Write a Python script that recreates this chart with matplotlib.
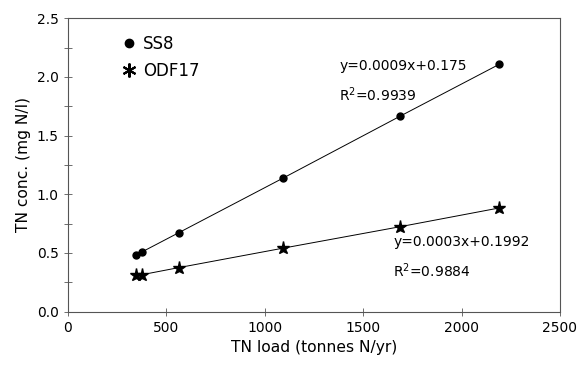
import matplotlib.pyplot as plt
from matplotlib.lines import Line2D
from matplotlib.ticker import MultipleLocator

# TN load (tonnes N/yr)
load = [345, 378, 564, 1091, 1689, 2190]
ss8 = [0.48, 0.51, 0.673, 1.136, 1.667, 2.107]
odf17 = [0.31, 0.315, 0.375, 0.54, 0.724, 0.883]

plt.rcParams['font.family'] = ['DejaVu Sans']

fig = plt.figure(figsize=(5.8, 3.67), dpi=100)
ax = fig.add_axes([0.117, 0.151, 0.8485, 0.799])

ax.plot(load, ss8, color='black', lw=0.7, marker='o', ms=5)
ax.plot(load, odf17, color='black', lw=0.7, marker='*', ms=9.5)

ax.set_xlim(0, 2500)
ax.set_ylim(0, 2.5)
ax.xaxis.set_major_locator(MultipleLocator(500))
ax.yaxis.set_major_locator(MultipleLocator(0.5))
ax.yaxis.set_minor_locator(MultipleLocator(0.25))
ax.yaxis.set_major_formatter(lambda v, p: f"{v:.1f}")
ax.tick_params(which='both', direction='inout', length=6, width=0.6, color='#555555', labelsize=10)
for s in ax.spines.values():
    s.set_color('#555555')
    s.set_linewidth(0.8)

ax.set_xlabel("TN load (tonnes N/yr)", fontsize=11.2)
ax.set_ylabel("TN conc. (mg N/l)", fontsize=11.2)

ax.text(1379, 2.09, "y=0.0009x+0.175", fontsize=10, va='center')
ax.text(1379, 1.85, "R$^2$=0.9939", fontsize=10, va='center')
ax.text(1653, 0.59, "y=0.0003x+0.1992", fontsize=10, va='center')
ax.text(1653, 0.35, "R$^2$=0.9884", fontsize=10, va='center')

handles = [Line2D([], [], color='black', marker='o', ls='none', ms=6),
           Line2D([], [], color='black', marker=(6, 2, 0), ls='none', ms=10, mew=1.5)]
ax.legend(handles, ["SS8", "ODF17"], loc='upper left', bbox_to_anchor=(0.08, 0.995),
          frameon=False, fontsize=12, handlelength=0.8, handletextpad=0.45, labelspacing=0.55)

fig.savefig("out.png", dpi=100)
